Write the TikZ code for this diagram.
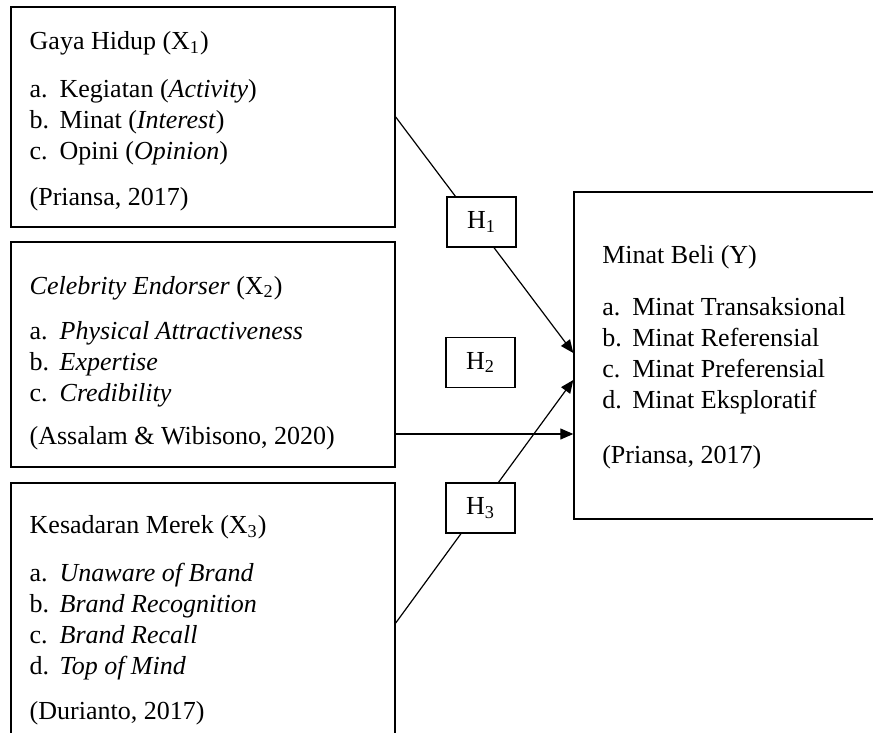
\documentclass[tikz,border=0pt]{standalone}
\usepackage{fontspec}
\setmainfont{Liberation Serif}
\usetikzlibrary{arrows.meta,positioning}
\newcommand{\lbl}[1]{\makebox[15pt][l]{#1}}

\begin{document}
\begin{tikzpicture}[x=0.5pt,y=-0.5pt,
  box/.style={draw,line width=0.7pt,inner sep=0pt},
  hbox/.style={box,fill=white,minimum width=34.5pt,minimum height=25pt,font=\fontsize{13}{15.5}\selectfont},
  txt/.style={inner sep=0pt,align=left,font=\fontsize{13}{15.5}\selectfont},
  arr/.style={-{Triangle[length=6.5pt,width=5.5pt]},line width=0.6pt}]
\useasboundingbox (0,0) rectangle (873,733);
\clip (0,0) rectangle (873,733);
% variabel bebas dan terikat
\node[box,minimum width=192pt,minimum height=110pt] (x1) at (203,117) {};
\node[box,minimum width=192pt,minimum height=112.5pt] (x2) at (203,354.5) {};
\node[box,minimum width=192pt,minimum height=153.5pt] (x3) at (203,636.5) {};
\node[box,minimum width=178pt,minimum height=163.5pt] (y) at (752,355.5) {};
\node[txt,below right=12.5pt and 9.5pt of x1.north west] (x1t) {Gaya Hidup (X\textsubscript{1})\\[8.5pt]
\lbl{a.}Kegiatan (\textit{Activity})\\
\lbl{b.}Minat (\textit{Interest})\\
\lbl{c.}Opini (\textit{Opinion})\\[7.5pt]
(Priansa, 2017)};
\node[txt,below right=17.2pt and 9.5pt of x2.north west] (x2t) {\textit{Celebrity Endorser} (X\textsubscript{2})\\[7pt]
\lbl{a.}\textit{Physical Attractiveness}\\
\lbl{b.}\textit{Expertise}\\
\lbl{c.}\textit{Credibility}\\[6.25pt]
(Assalam \& Wibisono, 2020)};
\node[txt,below right=16.5pt and 9.5pt of x3.north west] (x3t) {Kesadaran Merek (X\textsubscript{3})\\[8.25pt]
\lbl{a.}\textit{Unaware of Brand}\\
\lbl{b.}\textit{Brand Recognition}\\
\lbl{c.}\textit{Brand Recall}\\
\lbl{d.}\textit{Top of Mind}\\[7pt]
(Durianto, 2017)};
\node[txt,below right=27pt and 14.3pt of y.north west] (yt) {Minat Beli (Y)\\[10.5pt]
\lbl{a.}Minat Transaksional\\
\lbl{b.}Minat Referensial\\
\lbl{c.}Minat Preferensial\\
\lbl{d.}Minat Eksploratif\\[12pt]
(Priansa, 2017)};
% hubungan
\coordinate (h2line) at (0,434);
\draw[arr] (x1.east) -- ([yshift=1.25pt]y.west);
\draw[arr] (x2.east |- h2line) -- (y.west |- h2line);
\draw[arr] ([yshift=6.75pt]x3.east) -- ([yshift=-12.25pt]y.west);
\node[hbox] (h1) at (481.5,222) {H\textsubscript{1}};
\node[hbox] (h2) at (480.5,362.5) {H\textsubscript{2}};
\node[hbox] (h3) at (480.5,508) {H\textsubscript{3}};
\end{tikzpicture}
\end{document}
